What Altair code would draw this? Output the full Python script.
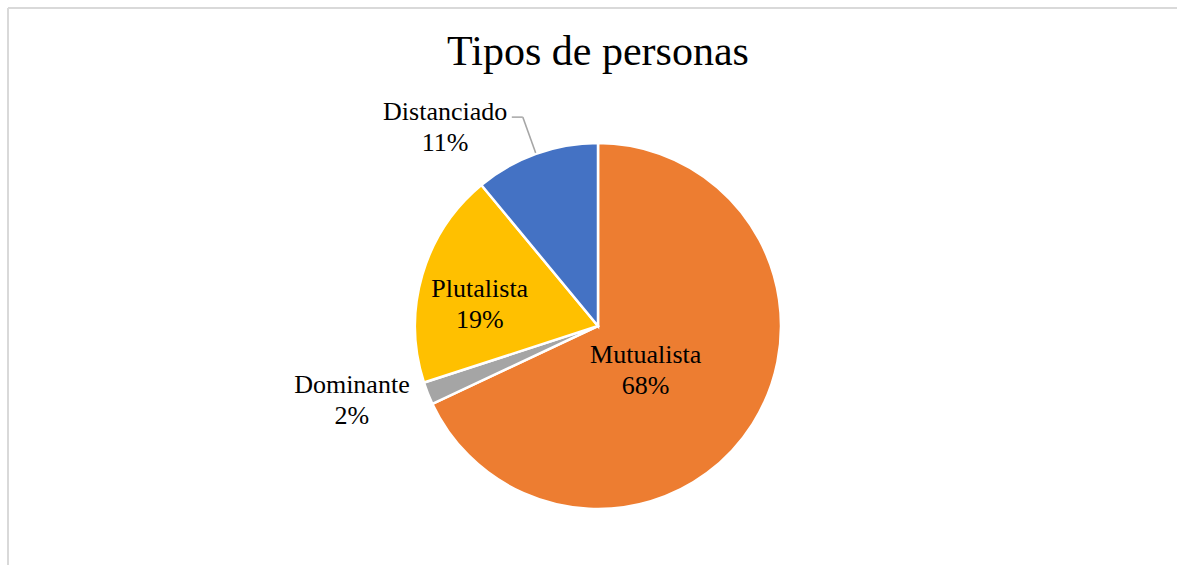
import altair as alt
import pandas as pd

# ---- data ----
categories = ["Mutualista", "Dominante", "Plutalista", "Distanciado"]
values = [68, 2, 19, 11]
colors = ["#ED7D31", "#A5A5A5", "#FFC000", "#4472C4"]
title_text = "Tipos de personas"

df = pd.DataFrame({
    "category": categories,
    "value": values,
    "order": list(range(len(categories))),
})

# ---- layout constants ----
W, H = 1169, 557            # view size (page is 1177x565, 8px padding top/left)
CX, CY = 590, 318           # pie centre in view pixels
R = 183                     # pie radius
FONT = "Liberation Serif"
LABEL_SIZE = 26
FRAME = "#D9D9D9"

# label placement: (radius along mid-angle, dx, dy) ; first-line baseline
label_layout = {
    "Mutualista": (60, -3, 5),
    "Dominante": (255, -9, -27),
    "Plutalista": (120, -3, 4),
    "Distanciado": (215, -80, -4),
}

base = alt.Chart(df).transform_window(
    cum="sum(value)", sort=[alt.SortField("order")], frame=[None, 0]
).transform_calculate(
    mid="datum.cum - datum.value / 2",
    pct="format(datum.value / 100, '.0%')",
    label="datum.category + '\\n' + datum.pct",
).transform_calculate(
    ang="datum.mid / 100 * 2 * PI",
)

color = alt.Color("category:N", scale=alt.Scale(domain=categories, range=colors), legend=None)

pie = alt.Chart(df).mark_arc(outerRadius=R, stroke="white", strokeWidth=2.5).encode(
    theta=alt.Theta("value:Q", stack=True, scale=alt.Scale(domain=[0, 100])),
    order=alt.Order("order:Q"),
    color=color,
    x=alt.value(CX),
    y=alt.value(CY),
)

layers = [pie]
for cat, (rad, dx, dy) in label_layout.items():
    layers.append(
        base.transform_filter(alt.datum.category == cat).transform_calculate(
            lx=f"{CX} + {rad} * sin(datum.ang)",
            ly=f"{CY} - {rad} * cos(datum.ang)",
        ).mark_text(
            dx=dx, dy=dy, font=FONT, fontSize=LABEL_SIZE,
            lineBreak="\n", lineHeight=31, baseline="alphabetic", align="center", color="black",
        ).encode(
            x=alt.X("lx:Q", scale=None),
            y=alt.Y("ly:Q", scale=None),
            text="label:N",
        )
    )

# leader line for the outside label "Distanciado"
R_EDGE, R_ELBOW, TAIL = 184, 222, 11
leader = base.transform_filter(alt.datum.category == "Distanciado").transform_calculate(
    x1=f"{CX} + {R_EDGE} * sin(datum.ang)",
    y1=f"{CY} - {R_EDGE} * cos(datum.ang)",
    x2=f"{CX} + {R_ELBOW} * sin(datum.ang)",
    y2=f"{CY} - {R_ELBOW} * cos(datum.ang)",
).transform_calculate(
    x3=f"datum.x2 - {TAIL}",
)
seg1 = leader.mark_rule(color="#A6A6A6", strokeWidth=1.5).encode(
    x=alt.X("x1:Q", scale=None), y=alt.Y("y1:Q", scale=None),
    x2="x2:Q", y2="y2:Q",
)
seg2 = leader.mark_rule(color="#A6A6A6", strokeWidth=1.5).encode(
    x=alt.X("x2:Q", scale=None), y=alt.Y("y2:Q", scale=None),
    x2="x3:Q", y2="y2:Q",
)
layers += [seg1, seg2]

# title, drawn inside the framed area
title = alt.Chart(pd.DataFrame({"t": [title_text]})).mark_text(
    font=FONT, fontSize=42, baseline="alphabetic", align="center", color="black",
).encode(x=alt.value(CX), y=alt.value(57), text="t:N")

# chart frame (top and left edges; right and bottom run past the window)
frame_top = alt.Chart(pd.DataFrame({"k": [0]})).mark_rule(color=FRAME, strokeWidth=2).encode(
    x=alt.value(0), x2=alt.value(W), y=alt.value(0))
frame_left = alt.Chart(pd.DataFrame({"k": [0]})).mark_rule(color=FRAME, strokeWidth=2).encode(
    x=alt.value(0), y=alt.value(0), y2=alt.value(H))

chart = alt.layer(frame_top, frame_left, *layers, title).properties(
    width=W, height=H,
    padding={"left": 8, "top": 8, "right": 0, "bottom": 0},
    autosize=alt.AutoSizeParams(type="none"),
    background="white",
).configure_view(stroke=None)

chart.save("out.html", embed_options={"renderer": "svg", "actions": False})
